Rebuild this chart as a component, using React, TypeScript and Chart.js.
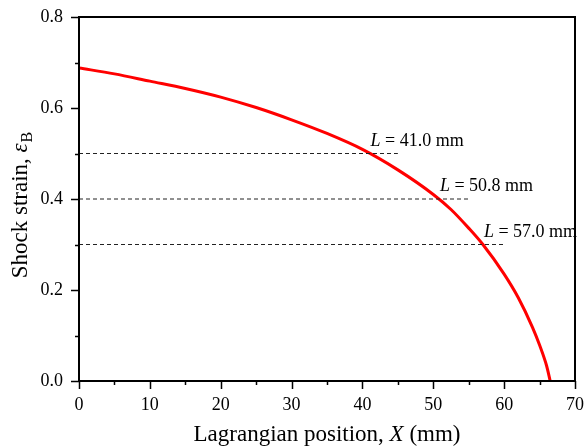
import { useEffect, useRef } from 'react';
import { Chart, registerables } from 'chart.js';

Chart.register(...registerables);

// Shock strain curve
const curveX = [0, 5, 10, 15, 20, 25, 30, 35, 40, 45, 50, 52.5, 55, 57, 60, 62, 64, 65, 66, 66.5];
const curveY = [0.688, 0.675, 0.659, 0.643, 0.624, 0.601, 0.574, 0.544, 0.509, 0.464, 0.41, 0.377, 0.336, 0.3, 0.235, 0.183, 0.118, 0.079, 0.033, 0.0];

// Reference levels and annotations
const levelStrains = [0.5, 0.4, 0.3];
const dashEnds = [45, 55, 60];
const lengthLabels = ['41.0', '50.8', '57.0'];
const lengthPositions = [41.0, 50.8, 57.0];

// Axis ticks
const xMajorTicks = [0, 10, 20, 30, 40, 50, 60, 70];
const xMinorTicks = [5, 15, 25, 35, 45, 55, 65];
const yMajorTicks = [0, 0.2, 0.4, 0.6, 0.8];
const yMinorTicks = [0.1, 0.3, 0.5, 0.7];

const FONT = '"Liberation Serif", "Times New Roman", serif';

export default function App() {
  const ref = useRef<HTMLCanvasElement | null>(null);

  useEffect(() => {
    document.body.style.margin = '0';
    const canvas = ref.current;
    if (!canvas) return;

    const decor = {
      id: 'decor',
      afterDraw(chart: any) {
        const { ctx, chartArea: a, scales } = chart;
        const xs = scales.x;
        const ys = scales.y;
        ctx.save();
        // frame
        ctx.strokeStyle = '#000';
        ctx.lineWidth = 2;
        ctx.strokeRect(a.left, a.top, a.right - a.left, a.bottom - a.top);
        // ticks
        ctx.lineWidth = 1.5;
        ctx.beginPath();
        xMajorTicks.forEach((v) => {
          const px = Math.round(xs.getPixelForValue(v)) + 0.5;
          ctx.moveTo(px, a.bottom);
          ctx.lineTo(px, a.bottom + 8);
        });
        xMinorTicks.forEach((v) => {
          const px = Math.round(xs.getPixelForValue(v)) + 0.5;
          ctx.moveTo(px, a.bottom);
          ctx.lineTo(px, a.bottom + 4);
        });
        yMajorTicks.forEach((v) => {
          const py = Math.round(ys.getPixelForValue(v)) + 0.5;
          ctx.moveTo(a.left, py);
          ctx.lineTo(a.left - 8, py);
        });
        yMinorTicks.forEach((v) => {
          const py = Math.round(ys.getPixelForValue(v)) + 0.5;
          ctx.moveTo(a.left, py);
          ctx.lineTo(a.left - 4, py);
        });
        ctx.stroke();

        ctx.fillStyle = '#000';
        ctx.textBaseline = 'alphabetic';
        // annotations
        levelStrains.forEach((lv, i) => {
          const px = xs.getPixelForValue(lengthPositions[i]) + 1;
          const py = ys.getPixelForValue(lv) - 8;
          ctx.font = `italic 18px ${FONT}`;
          ctx.textAlign = 'left';
          ctx.fillText('L', px, py);
          const w = ctx.measureText('L').width;
          ctx.font = `18px ${FONT}`;
          ctx.fillText(` = ${lengthLabels[i]} mm`, px + w, py);
        });

        // x title
        const cx = (a.left + a.right) / 2;
        const p1 = 'Lagrangian position, ';
        const p2 = 'X';
        const p3 = ' (mm)';
        ctx.font = `23px ${FONT}`;
        const w1 = ctx.measureText(p1).width;
        const w3 = ctx.measureText(p3).width;
        ctx.font = `italic 23px ${FONT}`;
        const w2 = ctx.measureText(p2).width;
        const sx = cx - (w1 + w2 + w3) / 2;
        const by = 441;
        ctx.textAlign = 'left';
        ctx.font = `23px ${FONT}`;
        ctx.fillText(p1, sx, by);
        ctx.font = `italic 23px ${FONT}`;
        ctx.fillText(p2, sx + w1, by);
        ctx.font = `23px ${FONT}`;
        ctx.fillText(p3, sx + w1 + w2, by);

        // y title (rotated)
        ctx.translate(27, (a.top + a.bottom) / 2 + 6);
        ctx.rotate(-Math.PI / 2);
        const q1 = 'Shock strain, ';
        const q2 = 'ε';
        const q3 = 'B';
        ctx.font = `23px ${FONT}`;
        const v1 = ctx.measureText(q1).width;
        ctx.font = `italic 23px ${FONT}`;
        const v2 = ctx.measureText(q2).width;
        ctx.font = `16px ${FONT}`;
        const v3 = ctx.measureText(q3).width;
        const tx = -(v1 + v2 + v3 + 1) / 2;
        ctx.font = `23px ${FONT}`;
        ctx.fillText(q1, tx, 0);
        ctx.font = `italic 23px ${FONT}`;
        ctx.fillText(q2, tx + v1, 0);
        ctx.font = `16px ${FONT}`;
        ctx.fillText(q3, tx + v1 + v2 + 1, 5);
        ctx.restore();
      },
    };

    const dashedSets = levelStrains.map((lv, i) => ({
      data: [
        { x: 0, y: lv },
        { x: dashEnds[i], y: lv },
      ],
      borderColor: '#222',
      borderWidth: 1,
      borderDash: [4, 3],
      pointRadius: 0,
      fill: false,
    }));

    const chart = new Chart(canvas, {
      type: 'line',
      data: {
        datasets: [
          ...dashedSets,
          {
            data: curveX.map((x, i) => ({ x, y: curveY[i] })),
            borderColor: '#ff0000',
            borderWidth: 3,
            pointRadius: 0,
            cubicInterpolationMode: 'monotone',
            fill: false,
          },
        ],
      },
      options: {
        animation: false,
        responsive: false,
        maintainAspectRatio: false,
        layout: { padding: { left: 0, top: 17, right: 9, bottom: 0 } },
        plugins: { legend: { display: false }, tooltip: { enabled: false } },
        scales: {
          x: {
            type: 'linear',
            min: 0,
            max: 70,
            afterFit: (s: any) => {
              s.height = 65;
              s.paddingLeft = 0;
              s.paddingRight = 0;
            },
            afterBuildTicks: (s: any) => {
              s.ticks = xMajorTicks.map((v) => ({ value: v }));
            },
            grid: { display: false },
            border: { display: false },
            ticks: {
              padding: 5,
              color: '#000',
              font: { family: FONT, size: 18 },
              maxRotation: 0,
              callback: (v: any) => String(v),
            },
          },
          y: {
            type: 'linear',
            min: 0,
            max: 0.8,
            afterFit: (s: any) => {
              s.width = 79;
              s.paddingTop = 0;
              s.paddingBottom = 0;
            },
            afterBuildTicks: (s: any) => {
              s.ticks = yMajorTicks.map((v) => ({ value: v }));
            },
            grid: { display: false },
            border: { display: false },
            ticks: {
              padding: 8,
              color: '#000',
              font: { family: FONT, size: 18 },
              callback: (v: any) => Number(v).toFixed(1),
            },
          },
        },
      },
      plugins: [decor],
    } as any);

    return () => chart.destroy();
  }, []);

  return (
    <div style={{ width: 584, height: 446 }}>
      <canvas ref={ref} width={584} height={446} style={{ display: 'block' }} />
    </div>
  );
}
